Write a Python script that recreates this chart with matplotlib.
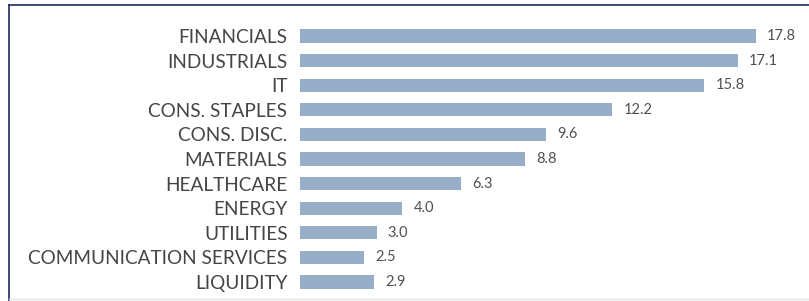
import matplotlib
matplotlib.use("Agg")
import matplotlib.pyplot as plt
from matplotlib.lines import Line2D

sectors = ['FINANCIALS', 'INDUSTRIALS', 'IT', 'CONS. STAPLES', 'CONS. DISC.',
           'MATERIALS', 'HEALTHCARE', 'ENERGY', 'UTILITIES',
           'COMMUNICATION SERVICES', 'LIQUIDITY']
weights = [17.8, 17.1, 15.8, 12.2, 9.6, 8.8, 6.3, 4.0, 3.0, 2.5, 2.9]

bar_color = '#97AEC8'
text_color = '#454545'
navy = '#1F2A5C'

W, H = 809, 301
fig = plt.figure(figsize=(W / 100, H / 100), dpi=100)
fig.patch.set_facecolor('white')

# axes placed so bars start at x=300 and 1 unit ~ 25.6 px
left = 300 / W
x_max = 19.5
width = x_max * 25.6 / W
bottom = 1 - 294.3 / H
top = 1 - 23.7 / H
ax = fig.add_axes([left, bottom, width, top - bottom])

y = list(range(len(sectors)))
ax.barh(y, weights, height=0.53, color=bar_color)
ax.set_xlim(0, x_max)
ax.set_ylim(len(sectors) - 0.5, -0.5)

ax.set_yticks(y)
ax.set_yticklabels(sectors, fontfamily='Lato', fontsize=13.7, color=text_color)
ax.tick_params(axis='y', length=0, pad=9)
ax.set_xticks([])
for sp in ax.spines.values():
    sp.set_visible(False)

for yi, v in zip(y, weights):
    ax.annotate(f'{v:.1f}', xy=(v, yi), xytext=(8, 0), textcoords='offset points',
                va='center', ha='left', fontfamily='Lato', fontsize=10.5,
                color='#505050')

# frame lines: navy top and left, light grey bottom
fig.add_artist(Line2D([9 / W, 1], [1 - 4.5 / H, 1 - 4.5 / H],
                      transform=fig.transFigure, color=navy, lw=1.2))
fig.add_artist(Line2D([9 / W, 9 / W], [1 - 4.5 / H, 0],
                      transform=fig.transFigure, color=navy, lw=1.2))
fig.add_artist(Line2D([9 / W, 1], [1 - 298.5 / H, 1 - 298.5 / H],
                      transform=fig.transFigure, color='#E2E2E2', lw=1.0))

fig.savefig('out.png', dpi=100)
